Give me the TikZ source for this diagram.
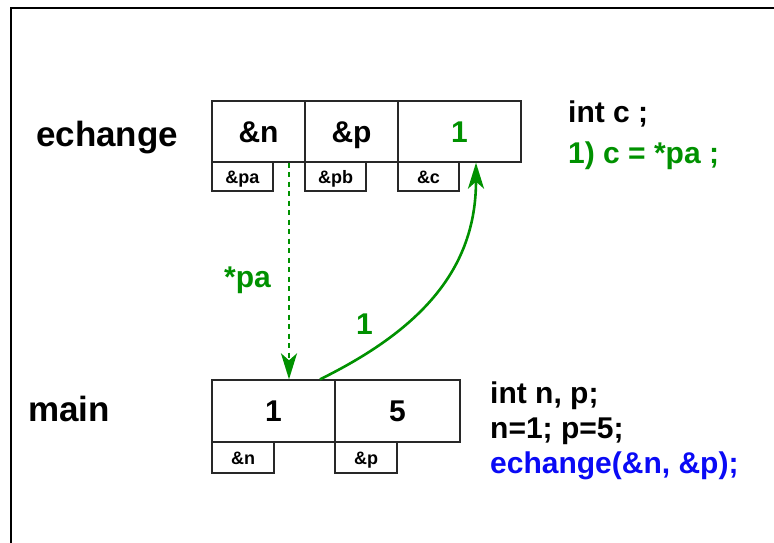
\documentclass[tikz,border=0pt]{standalone}
\usepackage{fontspec}
\setmainfont{Liberation Sans}
\usetikzlibrary{arrows.meta}
\definecolor{vert}{RGB}{0,145,0}
\definecolor{bleu}{RGB}{10,10,245}
\definecolor{trait}{RGB}{40,40,40}
\begin{document}
\begin{tikzpicture}[x=1pt,y=-1pt,
 cell/.style={draw=trait, line width=1.3pt, minimum height=61pt, inner sep=0pt,
   text height=21.6pt, text depth=0pt, font=\bfseries\fontsize{30}{36}\selectfont},
 tag/.style={draw=trait, line width=1.3pt, minimum height=29pt, minimum width=61pt, inner sep=0pt,
   text height=13pt, text depth=0pt, font=\bfseries\fontsize{18}{20}\selectfont},
 big/.style={anchor=base west, inner sep=0pt, font=\bfseries\fontsize{35}{40}\selectfont},
 code/.style={anchor=base west, inner sep=0pt, font=\bfseries\fontsize{30}{36}\selectfont},
 arr/.style={vert, line width=2.6pt, -{Stealth[length=26pt,width=16pt,inset=7pt]}}
]
\useasboundingbox (0,0) rectangle (774,542);
\draw[line width=1.2pt] (11,550) -- (11,8) -- (780,8);

% echange
\node[big] (lech) at (36,146) {echange};
\node[cell, minimum width=93pt] (en) at (258.5,131.5) {\&n};
\node[cell, minimum width=93pt] (ep) at (351.5,131.5) {\&p};
\node[cell, minimum width=123pt, text=vert] (ec) at (459.5,131.5) {1};
\node[tag] (tpa) at (242.5,176.5) {\&pa};
\node[tag] (tpb) at (335.5,176.5) {\&pb};
\node[tag] (tc) at (428.5,176.5) {\&c};
\node[code] (ic) at (568,122) {int c ;};
\node[code, text=vert] (c1l) at (568,163) {1) c = *pa ;};

% main
\node[big] (lmain) at (28,421) {main};
\node[cell, minimum width=123pt, minimum height=62pt] (m1) at (273.5,411) {1};
\node[cell, minimum width=125pt, minimum height=62pt] (m2) at (397.5,411) {5};
\node[tag, minimum width=62pt, minimum height=31pt] (sn) at (243,457.5) {\&n};
\node[tag, minimum width=62pt, minimum height=31pt] (sp) at (366,457.5) {\&p};
\node[code] (l1) at (490,403) {int n, p;};
\node[code] (l2) at (490,438) {n=1; p=5;};
\node[code, text=bleu] (l3) at (490,473) {echange(\&n, \&p);};

% arrows
\draw[arr, dash pattern=on 5pt off 4.5pt] ([xshift=30.5pt]en.south) -- ([xshift=15.5pt]m1.north);
\node[code, text=vert] (lpa) at (224,287) {*pa};
\coordinate (k1) at (420,330);
\coordinate (k2) at (476,270);
\draw[arr] ([xshift=46.5pt]m1.north) .. controls (k1) and (k2) .. ([xshift=16.5pt]ec.south);
\node[code, anchor=base, text=vert] (lone) at (364.5,334) {1};
\end{tikzpicture}
\end{document}
